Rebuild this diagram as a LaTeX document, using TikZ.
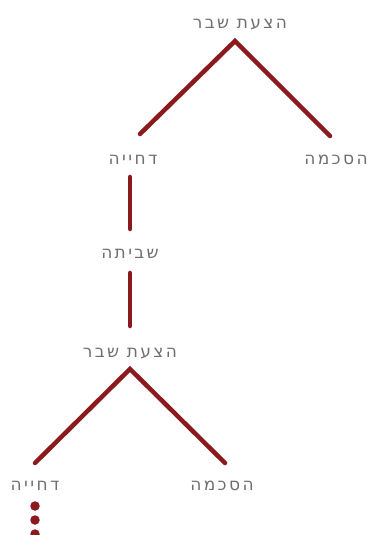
\documentclass[tikz,border=0pt]{standalone}
\usepackage{fontspec}
\newfontfamily\hebfont[Script=Hebrew,LetterSpace=14]{DejaVu Sans}
\TeXXeTstate=1
\definecolor{linered}{HTML}{8B1A1E}
\definecolor{txtgray}{HTML}{6E6E6E}
\begin{document}
\begin{tikzpicture}[x=1pt,y=-1pt,
  lbl/.style={font=\hebfont\fontsize{17}{19}\selectfont, text=txtgray, inner sep=0pt, anchor=center},
  conn/.style={draw=linered, line width=4.5pt, line cap=round, line join=miter},
  dotmark/.style={fill=linered, circle, inner sep=0pt, minimum size=9.5pt}]
\useasboundingbox (0,0) rectangle (368,535);
\node[lbl] (t1) at (240,25) {\beginR הצעת שבר\endR};
\coordinate (a1) at (235,41);
\coordinate (l1) at (140,134);
\coordinate (r1) at (330,136);
\node[lbl] (rej1) at (133,160) {\beginR דחייה\endR};
\node[lbl] (acc1) at (336,160) {\beginR הסכמה\endR};
\coordinate (v1a) at (130,177);
\coordinate (v1b) at (130,229);
\node[lbl] (strike) at (130,254) {\beginR שביתה\endR};
\coordinate (v2a) at (130,273);
\coordinate (v2b) at (130,326);
\node[lbl] (t2) at (130,354) {\beginR הצעת שבר\endR};
\coordinate (a2) at (130,369);
\coordinate (l2) at (35,463);
\coordinate (r2) at (225,463);
\node[lbl] (rej2) at (35,486) {\beginR דחייה\endR};
\node[lbl] (acc2) at (222,486) {\beginR הסכמה\endR};
\draw[conn] (l1) -- (a1) -- (r1);
\draw[conn] (v1a) -- (v1b);
\draw[conn] (v2a) -- (v2b);
\draw[conn] (l2) -- (a2) -- (r2);
\node[dotmark] (d1) at (35,506) {};
\node[dotmark] (d2) at (35,520) {};
\node[dotmark] (d3) at (35,534) {};
\end{tikzpicture}
\end{document}
